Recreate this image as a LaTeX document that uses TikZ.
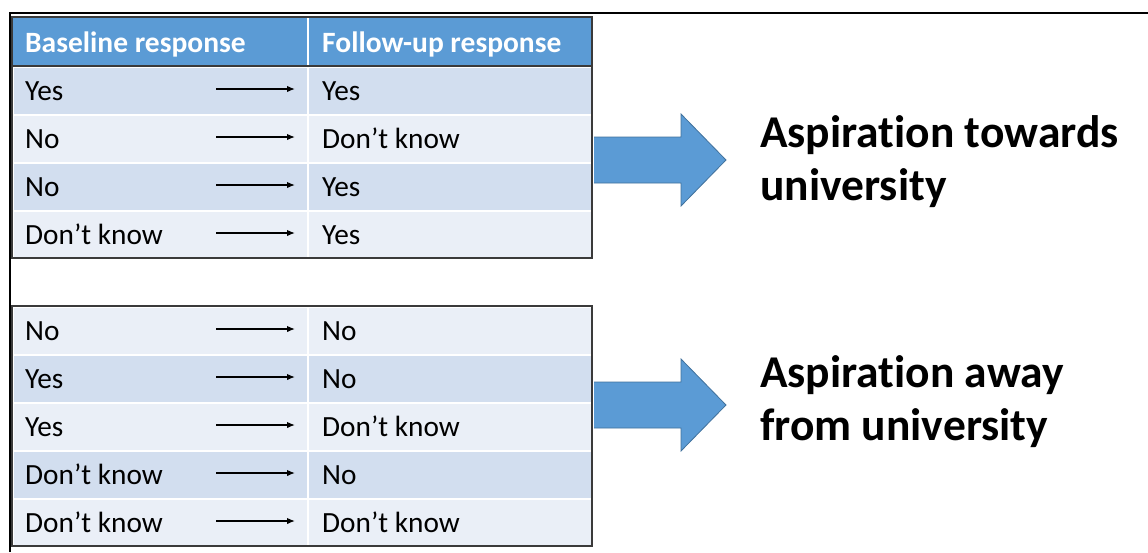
\documentclass[tikz,border=0pt]{standalone}
\usepackage{fontspec}
\setmainfont{Carlito}[Ligatures={TeX,NoCommon}]
\usetikzlibrary{arrows.meta}
\definecolor{hdrblue}{HTML}{5B9BD5}
\definecolor{rowdark}{HTML}{D2DEEF}
\definecolor{rowlight}{HTML}{EAEFF7}
\definecolor{arrowedge}{HTML}{41719C}
\definecolor{tblline}{HTML}{3A3A3A}
\tikzset{row cell/.style={draw=white, line width=1.5pt, minimum width=580pt,
        minimum height=48pt, inner sep=0pt, anchor=north west},
    hdr cell/.style={row cell, draw=none, fill=hdrblue, minimum height=49pt},
    cell text/.style={anchor=base west, inner sep=0pt,
        font=\fontsize{29.3}{35}\selectfont},
    hdr text/.style={cell text, text=white,
        font=\fontsize{29.5}{35}\selectfont\bfseries},
    big text/.style={anchor=base west, align=left, inner sep=0pt,
        font=\fontsize{45.5}{53}\selectfont\bfseries},
    row arrow/.style={-{Latex[length=8pt,width=6.5pt]}, line width=1.4pt},
    block arrow/.style={fill=hdrblue, draw=arrowedge, line width=0.8pt},
    }

\begin{document}
\begin{tikzpicture}[x=1pt, y=-1pt]
	\useasboundingbox (0,0) rectangle (1148,552);
	% outer frame
	\draw[line width=2pt] (10,552) -- (10,13) -- (1148,13);
	% big arrows
	\draw[block arrow] (592,137) -- (681,137) -- (681,114) -- (726,160)
		-- (681,206) -- (681,183) -- (592,183) -- cycle;
	\draw[block arrow] (592,382) -- (681,382) -- (681,359) -- (726,405)
		-- (681,451) -- (681,428) -- (592,428) -- cycle;
	% upper table
	\node[hdr cell] (hdr) at (12,17) {};
	\node[hdr text] (hdrA) at (25,52) {Baseline response};
	\node[hdr text] (hdrB) at (322,52) {Follow-up response};
	\foreach \i/\a/\b/\c in {1/Yes/Yes/rowdark, 2/No/Don't know/rowlight,
		3/No/Yes/rowdark, 4/Don't know/Yes/rowlight}{
		\node[row cell, fill=\c] (up\i) at (12,{66+48*(\i-1)}) {};
		\node[cell text] (upA\i) at (25,{100+48*(\i-1)}) {\a};
		\node[cell text] (upB\i) at (322,{100+48*(\i-1)}) {\b};
		\coordinate (upS\i) at (216,{89+48*(\i-1)});
		\coordinate (upE\i) at (295,{89+48*(\i-1)});
		\draw[row arrow] (upS\i) -- (upE\i);
	}
	\draw[white, line width=1.5pt] (308,17) -- (308,258);
	\draw[tblline, line width=1.5pt] (12,66) -- (592,66);
	\draw[tblline, line width=2pt] (12,17) rectangle (592,258);
	% lower table
	\foreach \i/\a/\b/\c in {1/No/No/rowlight, 2/Yes/No/rowdark,
		3/Yes/Don't know/rowlight, 4/Don't know/No/rowdark,
		5/Don't know/Don't know/rowlight}{
		\node[row cell, fill=\c] (lo\i) at (12,{306+48*(\i-1)}) {};
		\node[cell text] (loA\i) at (25,{340+48*(\i-1)}) {\a};
		\node[cell text] (loB\i) at (322,{340+48*(\i-1)}) {\b};
		\coordinate (loS\i) at (216,{329+48*(\i-1)});
		\coordinate (loE\i) at (295,{329+48*(\i-1)});
		\draw[row arrow] (loS\i) -- (loE\i);
	}
	\draw[white, line width=1.5pt] (308,306) -- (308,546);
	\draw[tblline, line width=2pt] (12,306) rectangle (592,546);
	% labels
	\node[big text] (toward) at (760,200) {Aspiration towards\\university};
	\node[big text] (away) at (760,440) {Aspiration away\\from university};
\end{tikzpicture}
\end{document}
